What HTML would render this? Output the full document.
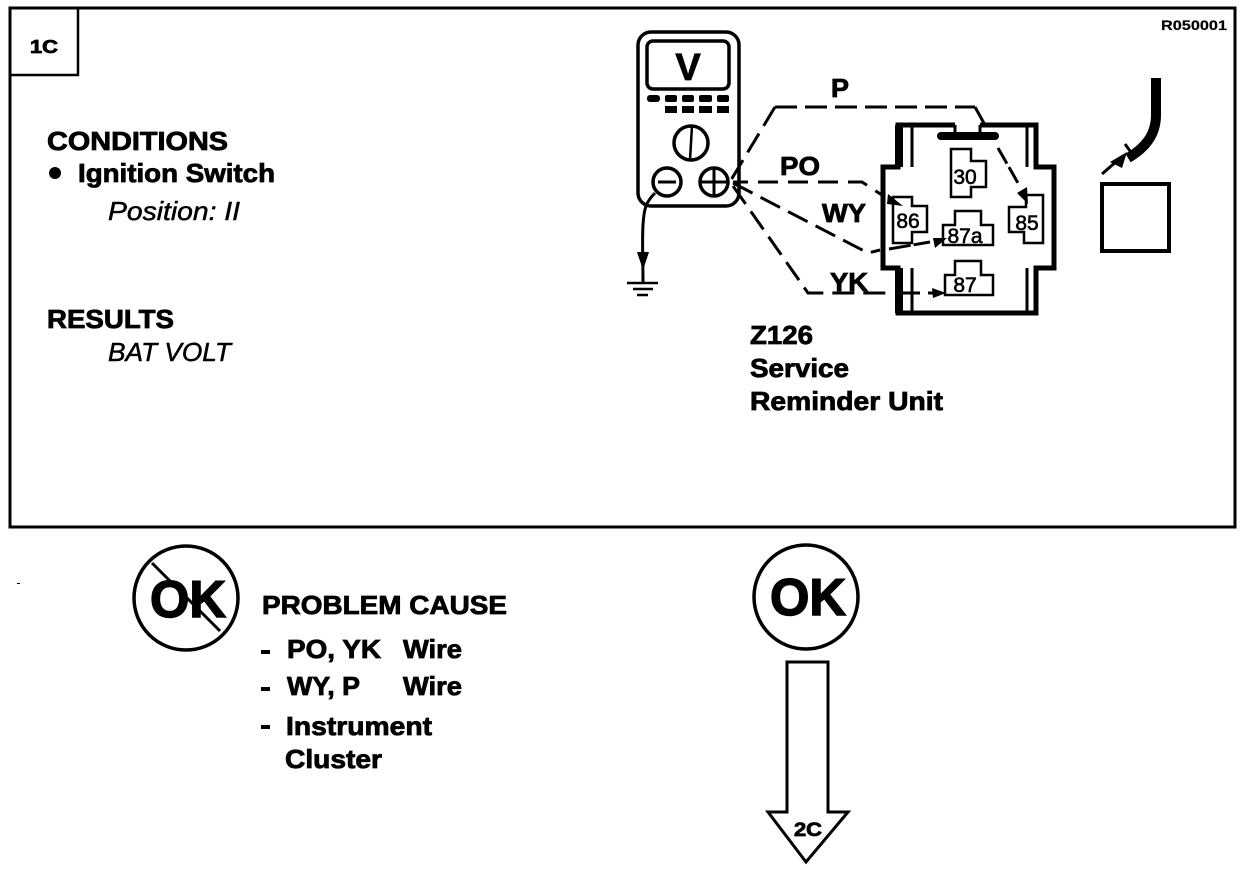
<!DOCTYPE html>
<html><head><meta charset="utf-8"><style>
html,body{margin:0;padding:0;background:#fff;width:1248px;height:870px;overflow:hidden}
svg{display:block}
text{font-family:"Liberation Sans",Arial,sans-serif;fill:#000}
.b{font-weight:bold;stroke:#000;stroke-width:.8px}
.i{font-style:italic;stroke:#000;stroke-width:.5px}
.w{fill:none;stroke:#000;stroke-width:3;stroke-dasharray:22 9}
.l{fill:none;stroke:#000}
</style></head><body>
<svg width="1248" height="870" viewBox="0 0 1248 870" xmlns="http://www.w3.org/2000/svg">
<rect width="1248" height="870" fill="#fff"/>
<rect x="10" y="8" width="1225" height="519" class="l" stroke-width="3"/>
<path d="M10 75H78V8" class="l" stroke-width="2.5"/>
<text x="30" y="53" class="b" font-size="18" textLength="28" lengthAdjust="spacingAndGlyphs">1C</text>
<text x="1161" y="30" class="b" font-size="14" style="stroke-width:.2" textLength="66" lengthAdjust="spacingAndGlyphs">R050001</text>
<rect x="17" y="583" width="3" height="1"/>

<text x="47" y="150" class="b" font-size="26" textLength="181" lengthAdjust="spacingAndGlyphs">CONDITIONS</text>
<circle cx="55" cy="173" r="6"/>
<text x="78" y="182" class="b" font-size="26" textLength="197" lengthAdjust="spacingAndGlyphs">Ignition Switch</text>
<text x="108" y="220" class="i" font-size="26" textLength="132" lengthAdjust="spacingAndGlyphs">Position: II</text>
<text x="47" y="328" class="b" font-size="26" textLength="127" lengthAdjust="spacingAndGlyphs">RESULTS</text>
<text x="108" y="361" class="i" font-size="26" textLength="123" lengthAdjust="spacingAndGlyphs">BAT VOLT</text>

<!-- meter -->
<rect x="638" y="32" width="101" height="174" rx="13" class="l" stroke-width="3.5"/>
<rect x="647" y="41" width="82" height="48" rx="6" class="l" stroke-width="3.5"/>
<text x="688" y="80" class="b" font-size="38" text-anchor="middle">V</text>
<g fill="#000">
<rect x="647" y="95" width="13" height="7" rx="3"/><rect x="665" y="95" width="12" height="7" rx="2"/><rect x="682" y="95" width="12" height="7" rx="2"/><rect x="699" y="95" width="13" height="7" rx="2"/><rect x="717" y="95" width="12" height="7" rx="2"/>
<rect x="665" y="106" width="12" height="7"/><rect x="682" y="106" width="12" height="7"/><rect x="699" y="106" width="13" height="7"/><rect x="717" y="106" width="12" height="7"/>
</g>
<circle cx="691" cy="143" r="17" class="l" stroke-width="3.5"/>
<path d="M692 126L690 160" class="l" stroke-width="2.5"/>
<circle cx="667" cy="182" r="14" fill="#fff" stroke="#000" stroke-width="3.5"/>
<path d="M658 182H676" class="l" stroke-width="3"/>
<circle cx="714" cy="182" r="14" fill="#fff" stroke="#000" stroke-width="3.5"/>
<path d="M700 182H728M714 168V196" class="l" stroke-width="3"/>
<path d="M655 193C646 202 644 208 643 225C642 240 643 260 643 283" class="l" stroke-width="3"/>
<path d="M637 252H649L643 270Z"/>
<path d="M627 283H658M633 289H653M637 295H648" class="l" stroke-width="2.5"/>

<!-- wires -->
<path d="M775 107L731 180" class="w"/>
<path d="M775 107H975" class="w" style="stroke-dasharray:22 8"/>
<path d="M975 107L985 125" class="l" stroke-width="3"/>
<path d="M733 182H862L885 197" class="w" style="stroke-dasharray:20 10;stroke-dashoffset:5"/>
<path d="M733 183L868 253L880 250" class="w"/>
<path d="M733 186L808 293H893" class="w"/>
<path d="M889 249L930 242" class="l" stroke-width="3" stroke-dasharray="22 3"/>
<path d="M900 293H920" class="l" stroke-width="3"/>
<path d="M928 293H935" class="l" stroke-width="3"/>
<path d="M998 148L1018 183" class="l" stroke-width="3" stroke-dasharray="18 4"/>
<path d="M888 194L903 206L887 204Z"/>
<path d="M933 238L947 238L935 248Z"/>
<path d="M932 288L946 293L933 298Z"/>
<path d="M1017 193L1027 187L1028 204Z"/>

<!-- connector -->
<path d="M955 125H898V167H883V268H898V313H1036V268H1054V167H1036V125H980" class="l" stroke-width="5"/>
<path d="M912 125V167M912 268V313M1027 125V167M1027 268V313" class="l" stroke-width="3"/>
<path d="M899 125V167M899 268V313" class="l" stroke-width="8"/>
<rect x="937" y="132" width="62" height="8" rx="4"/>
<path d="M955 125V134M980 125V134" class="l" stroke-width="3"/>

<g class="l" stroke-width="2.5">
<path d="M951 149H971V161H986V187H971V197H951Z"/>
<path d="M893 197H912V206H927V232H912V243H893Z"/>
<path d="M1026 195H1043V243H1024V232H1009V207H1026Z"/>
<path d="M955 211H981V225H993V245H943V225H955Z"/>
<path d="M955 261H981V275H993V295H945V275H955Z"/>
</g>
<g font-size="21" text-anchor="middle" style="stroke:#000;stroke-width:.6">
<text x="965" y="184">30</text>
<text x="908" y="228">86</text>
<text x="1027" y="230">85</text>
<text x="965" y="243">87a</text>
<text x="965" y="292">87</text>
</g>

<g class="b" font-size="26">
<text x="831" y="97" textLength="18" lengthAdjust="spacingAndGlyphs">P</text>
<text x="780" y="175" textLength="40" lengthAdjust="spacingAndGlyphs">PO</text>
<text x="822" y="222" textLength="44" lengthAdjust="spacingAndGlyphs">WY</text>
<text x="830" y="291" textLength="38" lengthAdjust="spacingAndGlyphs">YK</text>
<text x="750" y="344" textLength="63" lengthAdjust="spacingAndGlyphs">Z126</text>
<text x="750" y="377" textLength="99" lengthAdjust="spacingAndGlyphs">Service</text>
<text x="750" y="410" textLength="193" lengthAdjust="spacingAndGlyphs">Reminder Unit</text>
</g>

<!-- relay side -->
<path d="M1156 78V115C1156 135 1145 148 1128 158" class="l" stroke-width="10"/>
<path d="M1102 174L1118 160" class="l" stroke-width="3"/>
<path d="M1110 162L1127 152L1122 168Z"/>
<path d="M1125 144L1135 158" class="l" stroke-width="3"/>
<rect x="1102" y="184" width="67" height="67" class="l" stroke-width="4"/>

<!-- not OK -->
<circle cx="186" cy="598" r="52" class="l" stroke-width="3.5"/>
<text x="150" y="617" class="b" font-size="52" style="stroke-width:1.5" textLength="76" lengthAdjust="spacingAndGlyphs">OK</text>
<path d="M152 563L220 631" class="l" stroke-width="3"/>

<g class="b" font-size="26">
<text x="262" y="614" textLength="245" lengthAdjust="spacingAndGlyphs">PROBLEM CAUSE</text>
<text x="287" y="658" textLength="94" lengthAdjust="spacingAndGlyphs">PO, YK</text>
<text x="403" y="658" textLength="59" lengthAdjust="spacingAndGlyphs">Wire</text>
<text x="287" y="695" textLength="73" lengthAdjust="spacingAndGlyphs">WY, P</text>
<text x="403" y="695" textLength="59" lengthAdjust="spacingAndGlyphs">Wire</text>
<text x="286" y="735" textLength="146" lengthAdjust="spacingAndGlyphs">Instrument</text>
<text x="285" y="768" textLength="97" lengthAdjust="spacingAndGlyphs">Cluster</text>
</g>
<rect x="261" y="650" width="9" height="4"/><rect x="261" y="687" width="9" height="4"/><rect x="261" y="725" width="9" height="4"/>

<!-- OK -->
<circle cx="806" cy="597" r="52" class="l" stroke-width="3.5"/>
<text x="770" y="615" class="b" font-size="52" style="stroke-width:1.5" textLength="76" lengthAdjust="spacingAndGlyphs">OK</text>
<path d="M787 662H828V812H848L806 862L768 812H787Z" class="l" stroke-width="3"/>
<text x="808" y="836" class="b" font-size="19" text-anchor="middle" textLength="28" lengthAdjust="spacingAndGlyphs">2C</text>
</svg>
</body></html>
